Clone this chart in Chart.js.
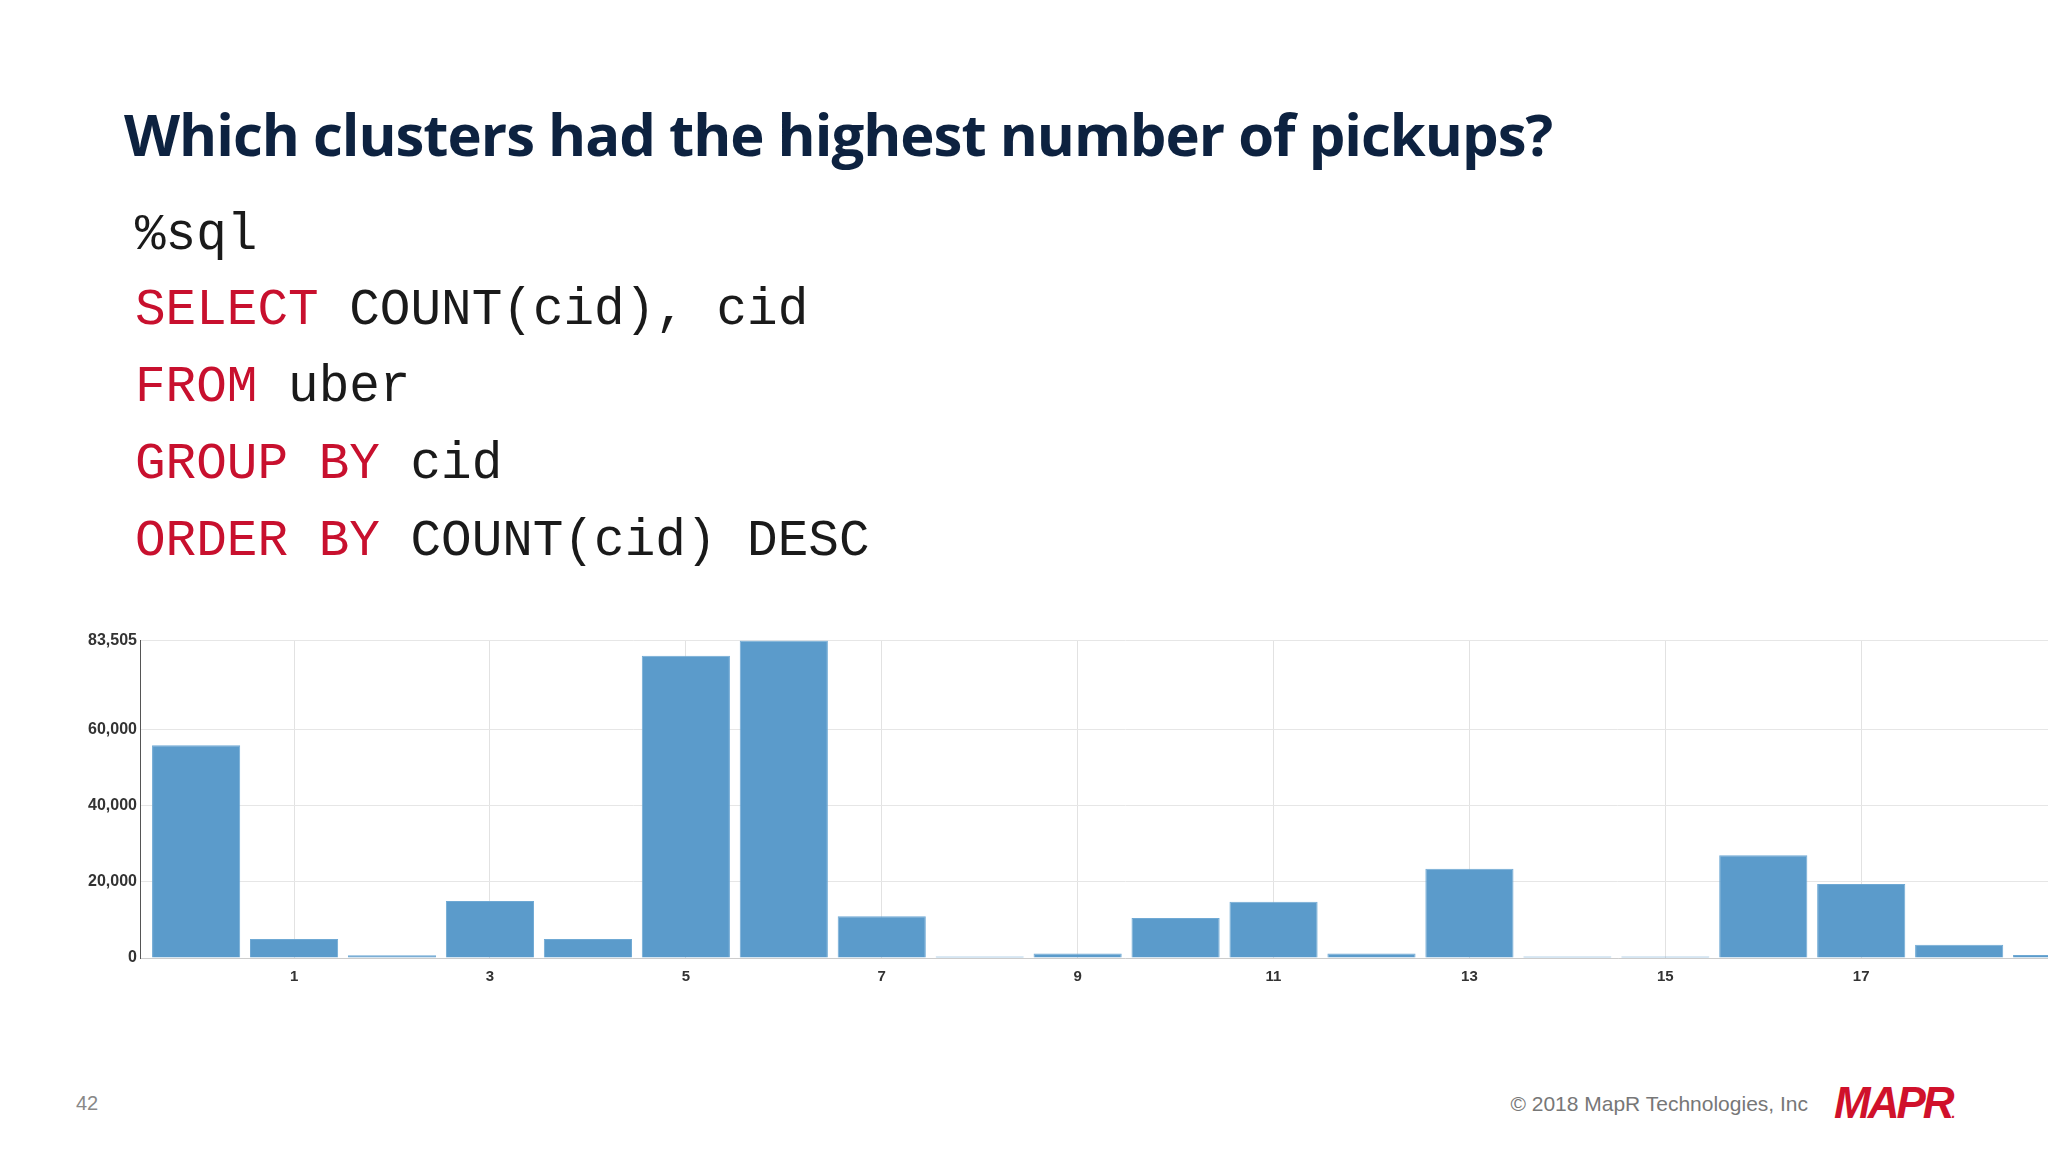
<!DOCTYPE html>
<html><head><meta charset="utf-8">
<script src="https://cdn.jsdelivr.net/npm/chart.js@4"></script>
<style>
html,body{margin:0;padding:0;width:2048px;height:1153px;overflow:hidden;background:#fff;position:relative;font-family:"Open Sans",sans-serif}
#title{position:absolute;left:124px;top:94px;font:bold 58px "Open Sans";color:#0d2240;letter-spacing:-1px}
.code{position:absolute;left:135px;font:51px "Liberation Mono",monospace;color:#1a1a1a;white-space:pre}
.k{color:#c8102e}
#wrap{position:absolute;left:70px;top:628px;width:2040px;height:368px}
#pg{position:absolute;left:76px;top:1092px;font:20px "Liberation Sans";color:#888}
#copy{position:absolute;right:240px;top:1092px;font:21px "Liberation Sans";color:#777}
#logo{position:absolute;left:1834px;top:1078px;font:italic bold 44px "Liberation Sans";color:#d0112b;letter-spacing:-3px}
</style></head><body>
<div id="title">Which clusters had the highest number of pickups?</div>
<div class="code" style="top:207px">%sql</div>
<div class="code" style="top:282px"><span class="k">SELECT</span> COUNT(cid), cid</div>
<div class="code" style="top:359px"><span class="k">FROM</span> uber</div>
<div class="code" style="top:436px"><span class="k">GROUP BY</span> cid</div>
<div class="code" style="top:513px"><span class="k">ORDER BY</span> COUNT(cid) DESC</div>
<div id="wrap"><canvas id="c"></canvas></div>
<div id="pg">42</div>
<div id="copy">© 2018 MapR Technologies, Inc</div>
<div id="logo">MAPR<span style="font-size:14px">.</span></div>
<script>
const categories = ["0","1","2","3","4","5","6","7","8","9","10","11","12","13","14","15","16","17","18","19"];
const counts = [56000,5000,700,15000,5000,79500,83505,11000,400,1200,10500,14800,1200,23500,400,400,27000,19500,3500,800];
const xTicks = [1,3,5,7,9,11,13,15,17,19];
const yTicks = [0,20000,40000,60000,83505];
new Chart(document.getElementById('c'),{
type:'bar',
data:{datasets:[{data:counts.map((y,i)=>({x:+categories[i],y})),backgroundColor:'#5b9bcb',borderColor:'#6fa9d4',borderWidth:1,barPercentage:0.9,categoryPercentage:1}]},
options:{responsive:true,maintainAspectRatio:false,animation:false,
plugins:{legend:{display:false},tooltip:{enabled:false}},
layout:{padding:{top:6,right:0}},
scales:{
x:{type:'linear',offset:false,min:-0.573,max:19.54,afterBuildTicks:s=>{s.ticks=xTicks.map(v=>({value:v}));},
 grid:{offset:false,color:'#e2e2e2',drawTicks:false},border:{color:'#ccc'},
 ticks:{autoSkip:false,maxRotation:0,padding:10,color:'#333',font:{family:'Liberation Sans',size:15,weight:'bold'}}},
y:{min:0,max:83505,afterBuildTicks:s=>{s.ticks=yTicks.map(v=>({value:v}));},afterFit:s=>{s.width=70;},
 grid:{color:'#e6e6e6',drawTicks:false},border:{color:'#555'},
 ticks:{padding:3,color:'#333',font:{family:'Liberation Sans',size:16,weight:'bold'},callback:v=>v.toLocaleString('en-US')}}
}}});
</script>
</body></html>
